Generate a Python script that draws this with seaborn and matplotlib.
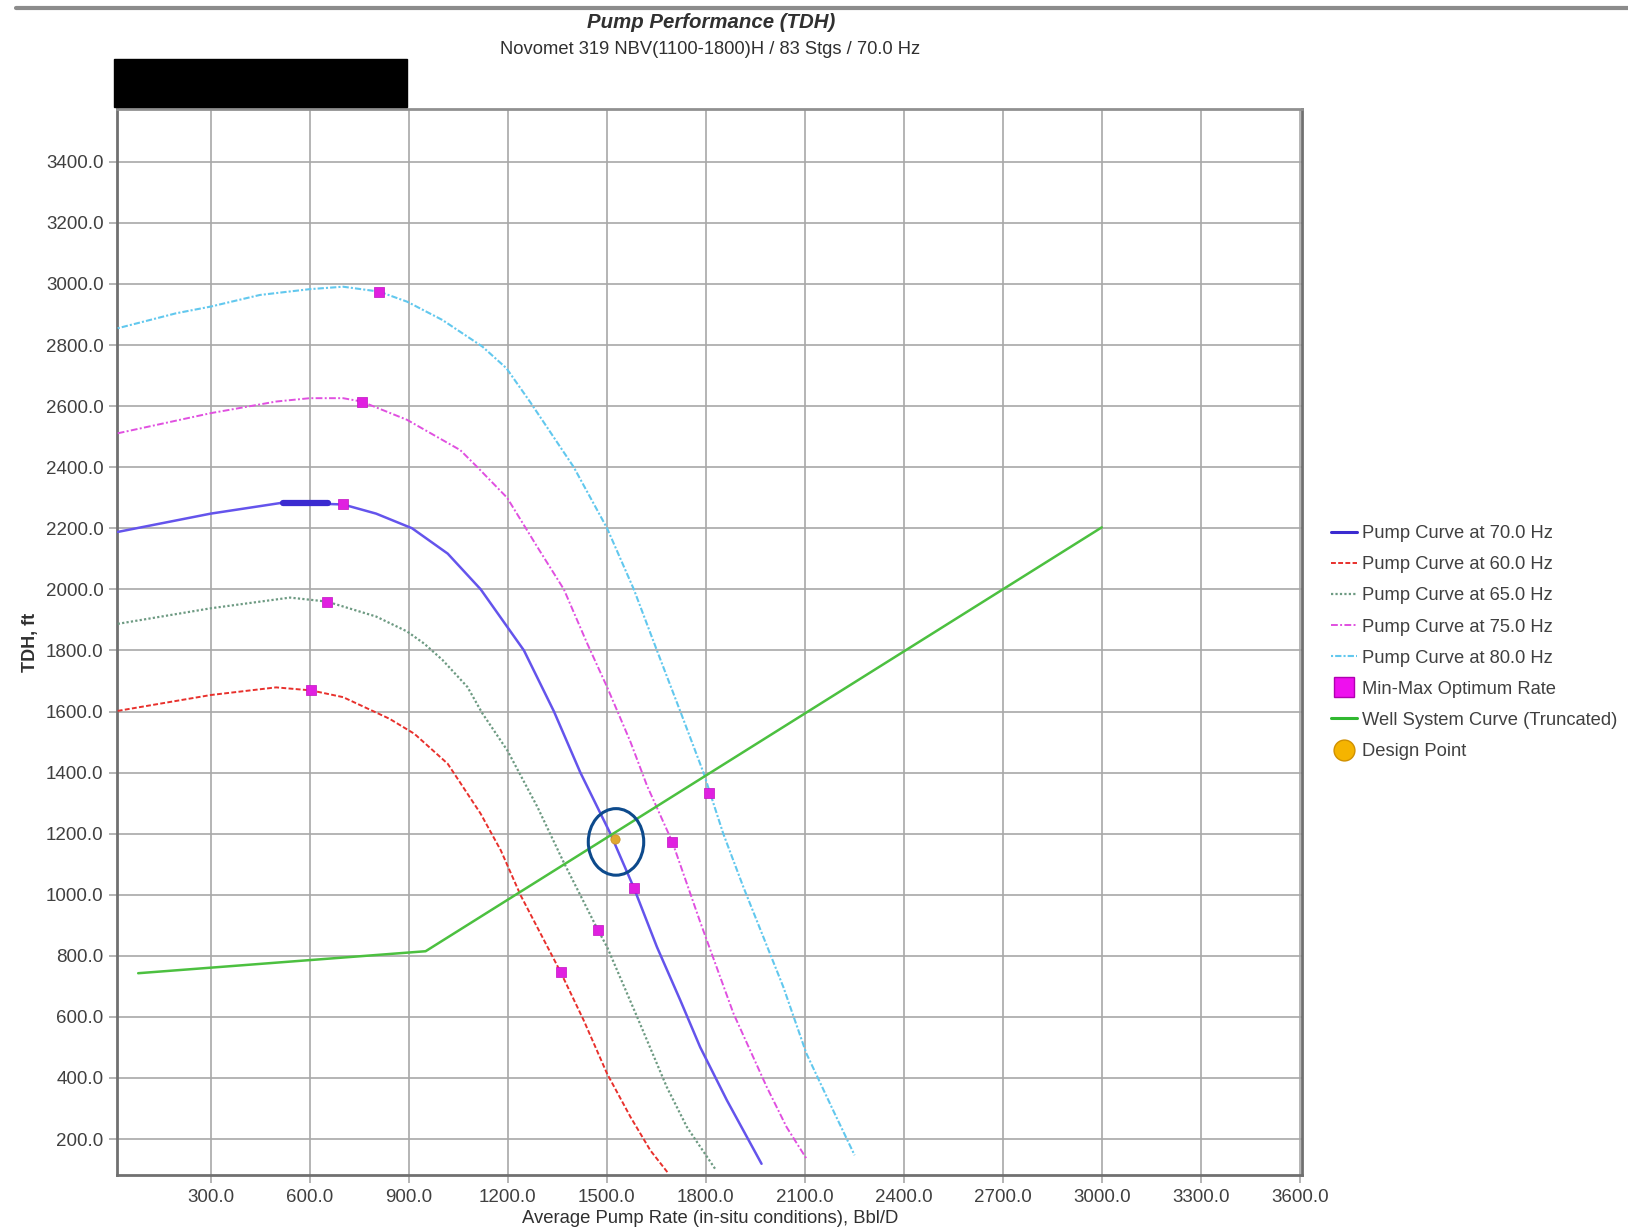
import matplotlib
matplotlib.use("Agg")
import matplotlib.pyplot as plt
from matplotlib.lines import Line2D
from matplotlib.patches import Ellipse, Rectangle
import pandas as pd
import seaborn as sns

# pump curves (rate Bbl/D, TDH ft)
q_60 = [18, 300, 498, 605, 701, 842, 917, 1018, 1118, 1179, 1239, 1360, 1430, 1501, 1572, 1632, 1687]
h_60 = [1602, 1654, 1679, 1669, 1647, 1576, 1527, 1429, 1265, 1145, 998, 747, 589, 414, 272, 163, 87]

q_65 = [18, 300, 540, 652, 801, 895, 947, 1002, 1078, 1123, 1199, 1290, 1370, 1474, 1501, 1592, 1682, 1743, 1828]
h_65 = [1887, 1938, 1973, 1960, 1911, 1862, 1822, 1769, 1680, 1594, 1472, 1287, 1105, 883, 829, 600, 370, 239, 103]

q_70 = [18, 300, 519, 701, 801, 910, 1018, 1118, 1249, 1340, 1420, 1511, 1582, 1652, 1723, 1783, 1864, 1969]
h_70 = [2188, 2248, 2284, 2278, 2248, 2200, 2117, 2000, 1800, 1600, 1400, 1200, 1023, 829, 654, 501, 327, 119]

q_75 = [18, 300, 498, 600, 701, 757, 895, 1056, 1108, 1198, 1290, 1370, 1441, 1501, 1572, 1622, 1699, 1783, 1884, 1985, 2045, 2105]
h_75 = [2511, 2577, 2615, 2626, 2626, 2615, 2555, 2456, 2400, 2300, 2138, 2000, 1822, 1680, 1500, 1357, 1172, 911, 611, 370, 239, 136]

q_80 = [18, 195, 300, 449, 600, 701, 810, 895, 1002, 1123, 1196, 1270, 1400, 1501, 1582, 1652, 1723, 1793, 1853, 1914, 2035, 2105, 2186, 2251]
h_80 = [2855, 2904, 2926, 2964, 2983, 2991, 2975, 2942, 2882, 2795, 2724, 2610, 2400, 2200, 2000, 1800, 1600, 1400, 1200, 1025, 698, 480, 294, 147]

# min-max optimum rate points
opt_q = [605, 1360, 652, 1474, 701, 1582, 757, 1698, 810, 1810]
opt_h = [1669, 747, 1960, 883, 2278, 1023, 2615, 1173, 2975, 1334]

# well system curve (truncated)
sys_q = [80, 951, 3000]
sys_h = [743, 815, 2203]

# bold section on the 70 Hz curve
band_q = [519, 655]
band_h = [2284, 2284]

design_q = [1524]
design_h = [1184]

x_ticks = [300, 600, 900, 1200, 1500, 1800, 2100, 2400, 2700, 3000, 3300, 3600]
y_ticks = [200, 400, 600, 800, 1000, 1200, 1400, 1600, 1800, 2000, 2200, 2400,
           2600, 2800, 3000, 3200, 3400]

sns.set_style("white")
plt.rcParams['font.family'] = ['Liberation Sans', 'DejaVu Sans']

fig = plt.figure(figsize=(16.28, 12.3), dpi=100)
ax = fig.add_axes([0.0721, 0.0444, 0.7277, 0.867])

curves = [
    ("Pump Curve at 70.0 Hz", q_70, h_70, "#6454ec", "-", 1.8),
    ("Pump Curve at 60.0 Hz", q_60, h_60, "#e8302c", (0, (2.5, 1.2)), 1.4),
    ("Pump Curve at 65.0 Hz", q_65, h_65, "#6d9a82", (0, (1, 1)), 1.6),
    ("Pump Curve at 75.0 Hz", q_75, h_75, "#e050e0", (0, (3.5, 1.2, 1, 1.2)), 1.4),
    ("Pump Curve at 80.0 Hz", q_80, h_80, "#62c8ee", (0, (1, 1, 3, 1)), 1.5),
]

for label, q, h, color, ls, lw in curves:
    df = pd.DataFrame({"q": q, "h": h})
    sns.lineplot(data=df, x="q", y="h", ax=ax, color=color, linestyle=ls,
                 linewidth=lw, sort=False, estimator=None, zorder=3)

sns.lineplot(x=band_q, y=band_h, ax=ax, color="#3b2bd0", linewidth=4.5,
             sort=False, estimator=None, zorder=4)
sns.lineplot(x=sys_q, y=sys_h, ax=ax, color="#4cc040", linewidth=1.8,
             sort=False, estimator=None, zorder=3)
sns.scatterplot(x=opt_q, y=opt_h, ax=ax, marker="s", s=55, color="#e020e0",
                edgecolor="#c010c0", linewidth=0.5, zorder=5)
sns.scatterplot(x=design_q, y=design_h, ax=ax, marker="o", s=45, color="#e0a830",
                edgecolor="#c89020", linewidth=0.5, zorder=6)

ax.add_patch(Ellipse((1528, 1173), 168, 218, fill=False, edgecolor="#0d4a8c",
                     linewidth=2.2, zorder=7))

ax.set_xlim(17, 3607)
ax.set_ylim(81, 3573)
ax.set_xticks(x_ticks)
ax.set_yticks(y_ticks)
ax.set_xticklabels([f"{v:.1f}" for v in x_ticks])
ax.set_yticklabels([f"{v:.1f}" for v in y_ticks])
ax.grid(True, color="#a8a8a8", linewidth=1.2)
ax.set_axisbelow(True)
ax.tick_params(axis="both", which="major", length=6, width=1.1, color="#a0a0a0",
               labelsize=13.5, labelcolor="#404040", direction="out", pad=4,
               bottom=True, left=True)
for side in ["left", "bottom", "right", "top"]:
    ax.spines[side].set_visible(True)
    ax.spines[side].set_color("#707070")
    ax.spines[side].set_linewidth(2.0)
ax.spines["top"].set_color("#909090")

ax.set_xlabel("Average Pump Rate (in-situ conditions), Bbl/D", fontsize=13.3,
              color="#303030", labelpad=2.5)
ax.set_ylabel("TDH, ft", fontsize=13, fontweight="bold", color="#303030", labelpad=4.5)

fig.text(0.4369, 0.982, "Pump Performance (TDH)", ha="center", va="center",
         fontsize=14.7, fontweight="bold", fontstyle="italic", color="#303030")
fig.text(0.436, 0.960, "Novomet 319 NBV(1100-1800)H / 83 Stgs / 70.0 Hz",
         ha="center", va="center", fontsize=13.2, color="#303030")

# top rule and redaction box
fig.add_artist(Line2D([0.010, 1.0], [0.9935, 0.9935], color="#8c8c8c", linewidth=3))
fig.add_artist(Rectangle((0.0700, 0.913), 0.180, 0.039, transform=fig.transFigure,
                         facecolor="black", edgecolor="black"))

handles = [
    Line2D([], [], color="#3b2bd0", linewidth=2.2),
    Line2D([], [], color="#e8302c", linestyle=(0, (2.5, 1.2)), linewidth=1.4),
    Line2D([], [], color="#6d9a82", linestyle=(0, (1, 1)), linewidth=1.6),
    Line2D([], [], color="#e050e0", linestyle=(0, (3.5, 1.2, 1, 1.2)), linewidth=1.4),
    Line2D([], [], color="#62c8ee", linestyle=(0, (1, 1, 3, 1)), linewidth=1.5),
    Line2D([], [], color="#ee10ee", marker="s", markersize=15, linestyle="none",
           markeredgecolor="#b000b0"),
    Line2D([], [], color="#30b830", linewidth=2.2),
    Line2D([], [], color="#f5b400", marker="o", markersize=15, linestyle="none",
           markeredgecolor="#d09000"),
]
labels = [c[0] for c in curves] + ["Min-Max Optimum Rate",
                                   "Well System Curve (Truncated)", "Design Point"]
fig.legend(handles, labels, loc="upper left", bbox_to_anchor=(0.813, 0.579),
           frameon=False, fontsize=13.2, labelcolor="#404040", handlelength=1.4,
           handletextpad=0.3, labelspacing=0.77, borderaxespad=0)

fig.savefig("out.png", dpi=100)
